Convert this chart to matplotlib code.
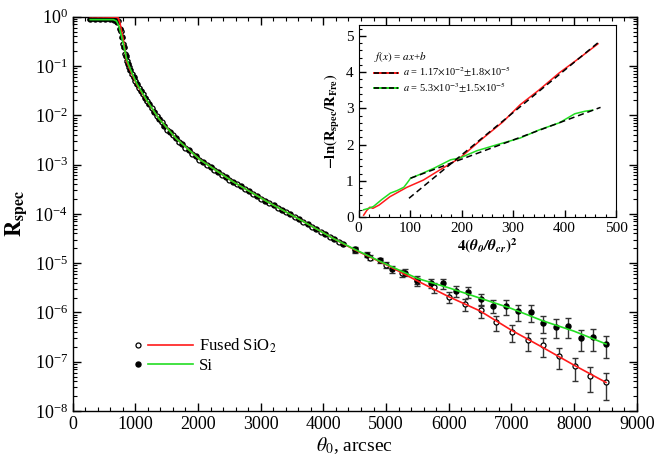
import numpy as np
import matplotlib
matplotlib.use("Agg")
import matplotlib.pyplot as plt
from matplotlib.legend_handler import HandlerTuple, HandlerBase
from matplotlib.lines import Line2D
from matplotlib.ticker import MultipleLocator, FixedLocator, NullFormatter, LogFormatterSciNotation

plt.rcParams['font.family'] = ['Liberation Serif', 'DejaVu Serif']
plt.rcParams['mathtext.fontset'] = 'stix'

# ---------------- main plot data (theta0 in arcsec, log10 of R_spec) ----------------
# Fused SiO2 data points (open circles)
sio2_x = [300, 400, 500, 600, 680, 730, 770, 800, 830, 860, 900, 950, 1000, 1060, 1120,
          1190, 1260, 1340, 1420, 1510, 1600, 1700, 1800, 1910, 2020, 2140, 2260, 2380,
          2500, 2620, 2750, 2880, 3010, 3140, 3270, 3400, 3540, 3680, 3820, 3960, 4100,
          4250, 4500, 4750, 5000, 5250, 5500, 5760, 6010, 6260, 6510, 6760, 7010, 7260,
          7510, 7760, 8010, 8260, 8510]
sio2_log = [-0.01, -0.01, -0.01, -0.01, -0.02, -0.08, -0.30, -0.55, -0.75, -0.90, -1.02,
            -1.16, -1.30, -1.44, -1.57, -1.72, -1.86, -2.01, -2.14, -2.29, -2.41, -2.54,
            -2.66, -2.78, -2.90, -3.01, -3.11, -3.21, -3.31, -3.40, -3.50, -3.60, -3.70,
            -3.79, -3.88, -3.97, -4.07, -4.17, -4.27, -4.37, -4.47, -4.57, -4.74, -4.89,
            -5.04, -5.20, -5.37, -5.49, -5.68, -5.83, -5.96, -6.19, -6.39, -6.56, -6.67,
            -6.88, -7.09, -7.29, -7.42]
sio2_relerr = [0.03] * 42 + [0.10, 0.12, 0.14, 0.16, 0.19, 0.22, 0.25, 0.28, 0.31, 0.34,
                             0.37, 0.40, 0.43, 0.46, 0.49, 0.52, 0.55]

# Si data points (filled circles)
si_x = [280, 360, 440, 520, 600, 660, 710, 750, 785, 815, 845, 880, 920, 975, 1030, 1090,
        1155, 1225, 1300, 1380, 1465, 1555, 1650, 1750, 1855, 1965, 2080, 2200, 2320, 2440,
        2560, 2685, 2815, 2945, 3075, 3205, 3335, 3470, 3610, 3750, 3890, 4030, 4175, 4320,
        4500, 4700, 4900, 5100, 5300, 5500, 5710, 5910, 6110, 6310, 6510, 6710, 6910, 7110,
        7310, 7510, 7710, 7910, 8110, 8310, 8510]
si_log = [-0.05, -0.05, -0.05, -0.05, -0.05, -0.06, -0.10, -0.24, -0.42, -0.62, -0.80,
          -0.95, -1.08, -1.23, -1.37, -1.50, -1.64, -1.78, -1.93, -2.07, -2.22, -2.34,
          -2.47, -2.59, -2.71, -2.83, -2.95, -3.05, -3.15, -3.25, -3.35, -3.44, -3.54,
          -3.64, -3.73, -3.83, -3.92, -4.01, -4.11, -4.21, -4.31, -4.41, -4.51, -4.61,
          -4.72, -4.83, -4.94, -5.12, -5.19, -5.34, -5.41, -5.41, -5.56, -5.58, -5.73,
          -5.86, -5.87, -5.98, -5.99, -6.21, -6.29, -6.27, -6.52, -6.50, -6.64]
si_relerr = [0.03] * 44 + [0.10, 0.12, 0.13, 0.15, 0.17, 0.19, 0.21, 0.23, 0.25, 0.27,
                           0.29, 0.31, 0.33, 0.35, 0.37, 0.39, 0.41, 0.43, 0.45, 0.47, 0.48]

# smoothed curves
red_x = [280, 720, 755, 808, 861, 940, 1020, 1180, 1370, 1650, 2030, 2560, 3100, 3630,
         4160, 4500, 5000, 5500, 6000, 6500, 7000, 7500, 8000, 8510]
red_log = [0.0, -0.01, -0.13, -0.47, -0.91, -1.15, -1.37, -1.70, -2.06, -2.47, -2.90,
           -3.35, -3.75, -4.12, -4.50, -4.73, -5.03, -5.36, -5.68, -5.97, -6.36, -6.71,
           -7.07, -7.42]
green_x = [280, 650, 700, 740, 780, 820, 860, 900, 940, 1020, 1180, 1370, 1650, 2030, 2560,
           3100, 3630, 4160, 4500, 5000, 5500, 6000, 6500, 7000, 7500, 8000, 8510]
green_log = [-0.06, -0.06, -0.09, -0.20, -0.40, -0.62, -0.85, -1.00, -1.12, -1.35, -1.69,
             -2.06, -2.47, -2.90, -3.35, -3.75, -4.12, -4.50, -4.72, -5.02, -5.31, -5.50,
             -5.71, -5.92, -6.17, -6.38, -6.64]
y_decades = [-8, -7, -6, -5, -4, -3, -2, -1, 0]

# ---------------- inset data ----------------
in_red_u = [10, 16, 22, 28, 40, 61, 94, 126, 158, 197, 242, 280, 314, 350, 390, 430, 465]
in_red_v = [0.05, 0.18, 0.27, 0.24, 0.33, 0.56, 0.82, 1.02, 1.30, 1.63, 2.18, 2.62, 3.10,
            3.50, 3.98, 4.40, 4.78]
in_green_u = [10, 20, 29, 45, 62, 75, 88, 95, 101, 120, 147, 179, 197, 230, 270, 314, 350,
              390, 420, 440, 455]
in_green_v = [0.20, 0.24, 0.29, 0.48, 0.66, 0.73, 0.82, 0.95, 1.07, 1.18, 1.35, 1.58, 1.63,
              1.83, 2.00, 2.18, 2.40, 2.60, 2.85, 2.92, 2.95]
fit_red = (1.17e-2, -0.63, 98, 470)      # slope, intercept, x-start, x-end
fit_green = (5.3e-3, 0.535, 101, 470)


class MarkerThenLine(HandlerBase):
    """Legend handle: a marker at the left, then a line segment."""
    def create_artists(self, legend, orig_handle, xdescent, ydescent, width, height,
                       fontsize, trans):
        mk, ln = orig_handle
        y = height / 2.0 - ydescent
        x0 = -xdescent
        m = Line2D([x0 + 0.06 * width], [y], linestyle='none', marker='o',
                   ms=mk.get_markersize(), mfc=mk.get_markerfacecolor(),
                   mec=mk.get_markeredgecolor(), mew=mk.get_markeredgewidth(),
                   transform=trans)
        l = Line2D([x0 + 0.22 * width, x0 + width], [y, y], color=ln.get_color(),
                   lw=ln.get_linewidth(), transform=trans)
        return [m, l]


# ---------------- figure ----------------
fig = plt.figure(figsize=(6.56, 4.70), dpi=100)
ax = fig.add_axes([0.1108, 0.1255, 0.8598, 0.8390])

def tenpow(v):
    return np.power(10.0, np.asarray(v, dtype=float))

for xs, ls, rel in [(sio2_x, sio2_log, sio2_relerr), (si_x, si_log, si_relerr)]:
    y = tenpow(ls)
    err = y * np.asarray(rel)
    ax.errorbar(xs, y, yerr=err, fmt='none', ecolor='#333333', elinewidth=1.0,
                capsize=2.5, capthick=1.0, zorder=2)

h_sio2, = ax.plot(sio2_x, tenpow(sio2_log), 'o', ms=3.6, mfc='white', mec='black',
                  mew=0.9, zorder=3, linestyle='none')
h_si, = ax.plot(si_x, tenpow(si_log), 'o', ms=3.6, mfc='black', mec='black',
                zorder=3, linestyle='none')
l_red, = ax.plot(red_x, tenpow(red_log), '-', color='#ff1a1a', lw=1.2, zorder=4)
l_green, = ax.plot(green_x, tenpow(green_log), '-', color='#22dd22', lw=1.2, zorder=4)

ax.set_yscale('log')
ax.set_xlim(0, 9000)
ax.set_ylim(1e-8, 1)
ax.xaxis.set_major_locator(MultipleLocator(1000))
ax.xaxis.set_minor_locator(MultipleLocator(200))
ax.yaxis.set_major_locator(FixedLocator(tenpow(y_decades)))
ax.yaxis.set_major_formatter(LogFormatterSciNotation())
minor_pos = [m * 10.0 ** d for d in y_decades[:-1] for m in range(2, 10)]
ax.yaxis.set_minor_locator(FixedLocator(minor_pos))
ax.yaxis.set_minor_formatter(NullFormatter())
ax.tick_params(which='both', direction='in', top=True, right=True, labelsize=13)
ax.tick_params(which='major', length=6, width=1)
ax.tick_params(which='minor', length=3, width=0.8)
for s in ax.spines.values():
    s.set_linewidth(1.0)

ax.set_xlabel(r'$\theta_{\mathit{0}}$, arcsec', fontsize=14, labelpad=2)
ax.set_ylabel(r'$\mathbf{R}_{\mathbf{spec}}$', fontsize=16, labelpad=4)

leg = ax.legend([(h_sio2, l_red), (h_si, l_green)], ['Fused SiO$_2$', 'Si'],
                handler_map={tuple: MarkerThenLine()},
                loc='lower left', bbox_to_anchor=(0.11, 0.095), frameon=False,
                borderaxespad=0, borderpad=0,
                fontsize=12, handlelength=3.5, handletextpad=0.35, labelspacing=0.15)

# ---------------- inset ----------------
axi = fig.add_axes([358.5 / 656, 1 - 217 / 470, 257.5 / 656, 192 / 470])
axi.plot(in_red_u, in_red_v, '-', color='#ff1a1a', lw=1.1, zorder=2)
axi.plot(in_green_u, in_green_v, '-', color='#22dd22', lw=1.1, zorder=2)
for a, b, x0, x1 in (fit_red, fit_green):
    xx = np.array([x0, x1])
    axi.plot(xx, a * xx + b, '--', color='black', lw=1.1, dashes=(4, 2.5), zorder=3)

axi.set_xlim(0, 500)
axi.set_ylim(0, 5.3)
axi.xaxis.set_major_locator(MultipleLocator(100))
axi.xaxis.set_minor_locator(MultipleLocator(20))
axi.yaxis.set_major_locator(MultipleLocator(1))
axi.yaxis.set_minor_locator(MultipleLocator(0.2))
axi.tick_params(which='both', direction='in', labelsize=11)
axi.tick_params(which='major', length=5, width=1)
axi.tick_params(which='minor', length=2.5, width=0.8)
axi.set_xlabel(r'$\mathbf{4(}\mathbfit{\theta_0/\theta_{cr}}\mathbf{)^2}$', fontsize=11,
               labelpad=1)
axi.set_ylabel(r'$\mathbf{-ln(R_{spec}/R_{Fre})}$', fontsize=10.5, labelpad=3)

r1, = axi.plot([], [], '-', color='#ff1a1a', lw=1.4)
d1, = axi.plot([], [], '--', color='black', lw=1.2, dashes=(3, 1.5))
r2, = axi.plot([], [], '-', color='#22dd22', lw=1.4)
d2, = axi.plot([], [], '--', color='black', lw=1.2, dashes=(3, 1.5))
ileg = axi.legend([(r1, d1), (r2, d2)],
                  [r'$a$ = 1.17$\times$10$^{-2}$$\pm$1.8$\times$10$^{-5}$',
                   r'$a$ = 5.3$\times$10$^{-3}$$\pm$1.5$\times$10$^{-5}$'],
                  handler_map={tuple: HandlerTuple(ndivide=1)},
                  loc='upper left', bbox_to_anchor=(0.06, 0.87), frameon=False,
                  fontsize=7.5, handlelength=2.3, handletextpad=0.5, labelspacing=0.1,
                  borderpad=0, borderaxespad=0,
                  title=r'$f(x)$ = $ax$+$b$', title_fontsize=8)
ileg._legend_box.align = 'left'

fig.savefig('out.png', dpi=100)
